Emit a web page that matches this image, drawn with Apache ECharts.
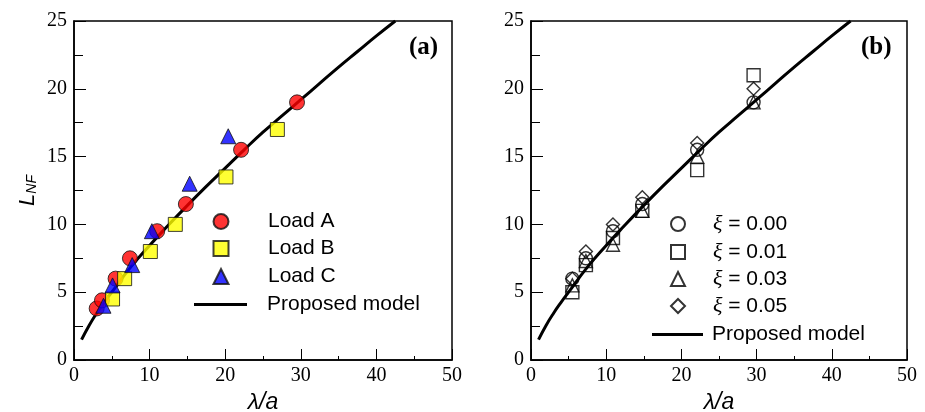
<!DOCTYPE html>
<html><head><meta charset="utf-8">
<script src="https://cdn.jsdelivr.net/npm/echarts@6/dist/echarts.min.js"></script>
<style>html,body{margin:0;padding:0;background:#fff}#c{width:925px;height:412px}</style>
</head><body><div id="c"></div>
<script>
// Proposed model curve
const modelX = [1, 2, 3, 4, 5, 7.5, 10, 12.5, 15, 17.5, 20, 22.5, 25, 27.5, 30, 32.5, 35, 37.5, 40, 42.5];
const modelY = [1.5, 2.55, 3.45, 4.25, 5.0, 6.85, 8.45, 9.95, 11.4, 12.8, 14.15, 15.5, 16.8, 18.0, 19.2, 20.4, 21.6, 22.75, 23.9, 25];
// Panel (a)
const loadAX = [3.0, 3.7, 5.5, 7.4, 11.0, 14.8, 22.1, 29.5];
const loadAY = [3.8, 4.4, 6.0, 7.5, 9.5, 11.5, 15.5, 19.0];
const loadBX = [5.1, 6.7, 10.1, 13.4, 20.1, 26.9];
const loadBY = [4.5, 6.0, 8.0, 10.0, 13.5, 17.0];
const loadCX = [3.9, 5.1, 7.7, 10.3, 15.3, 20.4];
const loadCY = [4.0, 5.5, 7.0, 9.5, 13.0, 16.5];
// Panel (b)
const xiX = [5.5, 7.3, 10.9, 14.8, 22.1, 29.6];
const xi000 = [6.0, 7.5, 9.5, 11.5, 15.5, 19.0];
const xi001 = [5.0, 7.0, 9.0, 11.0, 14.0, 21.0];
const xi003 = [5.5, 7.3, 8.5, 11.0, 15.0, 19.0];
const xi005 = [6.0, 8.0, 10.0, 12.0, 16.0, 20.0];
const xTicks = [0, 10, 20, 30, 40, 50];
const yTicks = [0, 5, 10, 15, 20, 25];
const legendA = ['Load A', 'Load B', 'Load C', 'Proposed model'];
const legendB = ['ξ = 0.00', 'ξ = 0.01', 'ξ = 0.03', 'ξ = 0.05', 'Proposed model'];

const pairs = (xs, ys) => xs.map((x, i) => [x, ys[i]]);
const serif = '"Liberation Serif","Times New Roman",serif';
const sans = '"Liberation Sans",Arial,sans-serif';

function xAxis(gi) {
  return {
    gridIndex: gi, type: 'value', min: xTicks[0], max: xTicks[xTicks.length - 1], interval: 10,
    name: 'λ/a', nameLocation: 'middle', nameGap: 25,
    nameTextStyle: { fontFamily: sans, fontStyle: 'italic', fontSize: 23, color: '#000' },
    axisLine: { lineStyle: { color: '#000', width: 1.5 } },
    axisTick: { inside: true, length: 11, lineStyle: { color: '#000', width: 1 } },
    minorTick: { show: true, splitNumber: 2, length: 4, lineStyle: { color: '#000', width: 1 } },
    axisLabel: { fontFamily: serif, fontSize: 20, color: '#000', margin: 6 },
    splitLine: { show: false }
  };
}
function yAxis(gi, withName) {
  const a = {
    gridIndex: gi, type: 'value', min: yTicks[0], max: yTicks[yTicks.length - 1], interval: 5,
    axisLine: { lineStyle: { color: '#000', width: 1.5 } },
    axisTick: { inside: true, length: 12, lineStyle: { color: '#000', width: 1 } },
    minorTick: { show: true, splitNumber: 2, length: 9, lineStyle: { color: '#000', width: 1 } },
    axisLabel: { fontFamily: serif, fontSize: 20, color: '#000', margin: 7 },
    splitLine: { show: false }
  };
  if (withName) {
    a.name = '{L|L}{s|NF}';
    a.nameLocation = 'middle';
    a.nameGap = 35;
    a.nameRotate = 90;
    a.nameTextStyle = {
      rich: {
        L: { fontFamily: sans, fontStyle: 'italic', fontSize: 22, color: '#000' },
        s: { fontFamily: sans, fontStyle: 'italic', fontSize: 14, color: '#000', verticalAlign: 'bottom', padding: [9, 0, 0, 0] }
      }
    };
  }
  return a;
}
function filled(name, gi, data, symbol, color, size) {
  return {
    name, type: 'scatter', xAxisIndex: gi, yAxisIndex: gi, data, symbol, symbolSize: size,
    itemStyle: { color, borderColor: '#111', borderWidth: 1 }, z: 3
  };
}
function hollow(name, data, symbol, size) {
  return {
    name, type: 'scatter', xAxisIndex: 1, yAxisIndex: 1, data, symbol, symbolSize: size,
    itemStyle: { color: 'rgba(255,255,255,0)', borderColor: '#000', borderWidth: 1.4 }, z: 3
  };
}
function model(gi) {
  return {
    name: 'Proposed model', type: 'line', xAxisIndex: gi, yAxisIndex: gi,
    data: pairs(modelX, modelY), smooth: true, symbol: 'none', showSymbol: false,
    lineStyle: { color: '#000', width: 3 }, itemStyle: { color: '#000' }, z: 2
  };
}
// one legend per entry so each sits exactly where the reference shows it
function legendItem(name, cx, cy, isLine, lineLeft, lineW, textX, iconSize) {
  const LH = 18;
  const left = isLine ? lineLeft : cx - iconSize / 2;
  const w = isLine ? lineW : iconSize;
  const pad = textX - (left + w + 5);
  return {
    data: [isLine ? { name, icon: 'rect' } : name],
    left, top: cy - LH / 2, padding: 0, orient: 'vertical',
    itemWidth: w, itemHeight: isLine ? 3 : iconSize, selectedMode: false,
    formatter: n => n.startsWith('ξ') ? '{x|ξ}' + n.slice(1) : n,
    textStyle: {
      fontFamily: sans, fontSize: 21, color: '#000', lineHeight: LH, padding: [0, 0, 0, pad],
      rich: { x: { fontFamily: serif, fontStyle: 'italic', fontSize: 22, color: '#000', lineHeight: LH } }
    }
  };
}
const legendAY = [220, 247, 275, 303];
const legendBY = [222, 250, 277, 304, 333];
const legends = [];
legendA.forEach((n, i) => legends.push(legendItem(n, 220, legendAY[i], n === 'Proposed model', 194, 53, 267, 15)));
legendB.forEach((n, i) => legends.push(legendItem(n, 677, legendBY[i], n === 'Proposed model', 652, 51, 712, 14)));

const chart = echarts.init(document.getElementById('c'), null, { renderer: 'canvas' });
chart.setOption({
  animation: false,
  backgroundColor: '#fff',
  title: [
    { text: '(a)', left: 409, top: 35, padding: 0, textStyle: { fontFamily: serif, fontWeight: 'bold', fontSize: 25, color: '#000' } },
    { text: '(b)', left: 861, top: 35, padding: 0, textStyle: { fontFamily: serif, fontWeight: 'bold', fontSize: 25, color: '#000' } }
  ],
  grid: [
    { left: 74, top: 21, width: 378, height: 339, containLabel: false, outerBoundsMode: 'none', show: true, borderColor: '#000', borderWidth: 1.5 },
    { left: 531, top: 21, width: 376, height: 339, containLabel: false, outerBoundsMode: 'none', show: true, borderColor: '#000', borderWidth: 1.5 }
  ],
  xAxis: [xAxis(0), xAxis(1)],
  yAxis: [yAxis(0, true), yAxis(1, false)],
  legend: legends,
  series: [
    model(0),
    filled('Load A', 0, pairs(loadAX, loadAY), 'circle', '#ff0000', 15),
    filled('Load B', 0, pairs(loadBX, loadBY), 'rect', '#ffff00', 14),
    filled('Load C', 0, pairs(loadCX, loadCY), 'triangle', '#0000ff', 15),
    model(1),
    hollow('ξ = 0.00', pairs(xiX, xi000), 'circle', 13),
    hollow('ξ = 0.01', pairs(xiX, xi001), 'rect', 13),
    hollow('ξ = 0.03', pairs(xiX, xi003), 'triangle', 13),
    hollow('ξ = 0.05', pairs(xiX, xi005), 'diamond', 13)
  ]
});
</script></body></html>
